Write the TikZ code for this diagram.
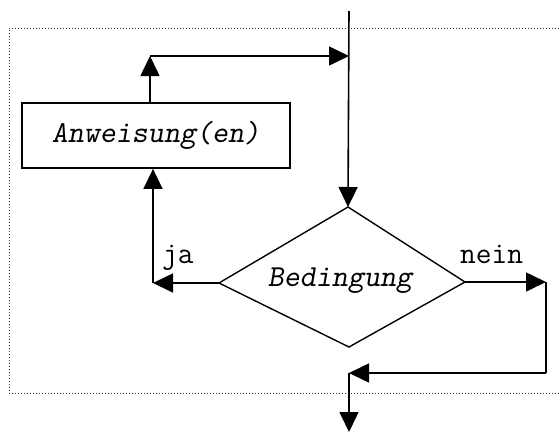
\documentclass[tikz,border=0pt]{standalone}
\usetikzlibrary{arrows.meta}
\tikzset{
  flow/.style={line width=1.6pt, draw=black},
  arr/.style={flow, -{Triangle[length=20pt,width=19pt]}},
  frame/.style={line width=1pt, dash pattern=on 1pt off 2pt, draw=black!80},
  txt/.style={font=\ttfamily\fontsize{30.5}{34}\selectfont},
  stmt/.style={draw, line width=1.8pt, rectangle, minimum width=268pt,
    minimum height=65pt, inner sep=0pt, txt}
}
\begin{document}
\begin{tikzpicture}[x=1pt, y=-1pt]
  \useasboundingbox (0,0) rectangle (560,432);
  \clip (0,0) rectangle (560,432);

  % dotted loop frame, open past the right edge
  \draw[frame] (565,28) -- (9,28) -- (9,393) -- (565,393);

  % loop body
  \node[stmt] (box) at (156,135.5) {\slshape Anweisung(en)};

  % condition diamond
  \coordinate (cT) at (348,207);
  \coordinate (cL) at (219,283);
  \coordinate (cR) at (465,282);
  \coordinate (cB) at (349,347);
  \draw[line width=1.4pt, line join=miter] (cT) -- (cR) -- (cB) -- (cL) -- cycle;
  \node[txt, inner sep=0pt] (cond) at (340,281) {\slshape Bedingung};

  % connector points
  \coordinate (in)    at (349,11);
  \coordinate (join)  at (349,56);
  \coordinate (loop)  at (150,56);
  \coordinate (jaC)   at (153,283);
  \coordinate (neinC) at (546,282);
  \coordinate (neinB) at (546,373);
  \coordinate (merge) at (349,373);
  \coordinate (out)   at (349,432);

  % entry and test
  \draw[arr] (in) -- (cT);
  % ja branch: back through the body
  \draw[arr] (cL) -- (jaC);
  \draw[arr] (jaC) -- (jaC |- box.south);
  \draw[arr] (loop |- box.north) -- (loop);
  \draw[arr] (loop) -- (join);
  % nein branch: leave the loop
  \draw[arr] (cR) -- (neinC);
  \draw[flow] (neinC) -- (neinB);
  \draw[arr] (neinB) -- (merge);
  \draw[arr] (merge) -- (out);

  % branch labels
  \node[txt, inner sep=0pt, anchor=base west] (lja) at (162,263) {ja};
  \node[txt, inner sep=0pt, anchor=base west] (lnein) at (460,263) {nein};
\end{tikzpicture}
\end{document}
